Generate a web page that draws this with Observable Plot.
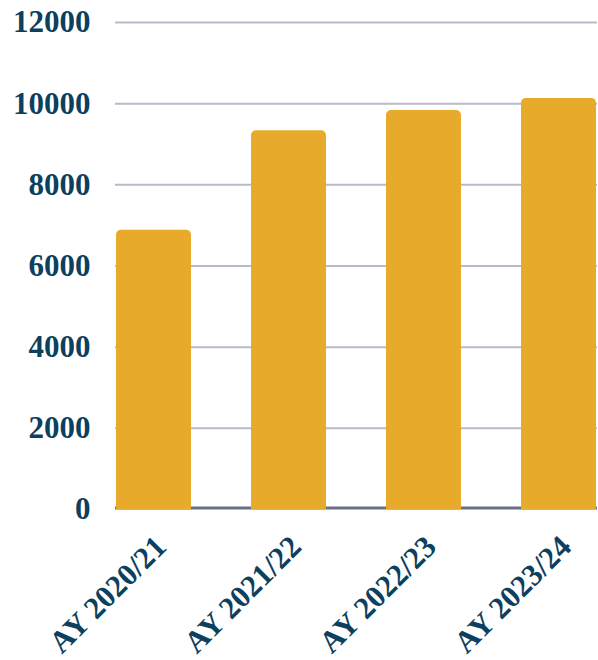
<!DOCTYPE html>
<html>
<head>
<meta charset="utf-8">
<script src="https://cdn.jsdelivr.net/npm/d3@7"></script>
<script src="https://cdn.jsdelivr.net/npm/@observablehq/plot@0.6"></script>
<style>
  html, body { margin: 0; padding: 0; background: #ffffff; }
  #chart svg { display: block; }
</style>
</head>
<body>
<div id="chart"></div>
<script>
const years = ["AY 2020/21", "AY 2021/22", "AY 2022/23", "AY 2023/24"];
const values = [6880, 9330, 9830, 10130];
const yTicks = [0, 2000, 4000, 6000, 8000, 10000, 12000];

const data = years.map((year, i) => ({year, value: values[i]}));

const textColor = "#0d3f5e";
const chart = Plot.plot({
  width: 598,
  height: 660,
  marginLeft: 115,
  marginRight: 1,
  marginTop: 22,
  marginBottom: 151,
  style: {
    fontFamily: "'Liberation Serif', 'Times New Roman', serif",
    fontWeight: "bold",
    fontSize: "31px",
    color: textColor,
    background: "#ffffff"
  },
  x: {
    domain: years,
    label: null,
    paddingInner: 0.446,
    paddingOuter: 0
  },
  y: {
    domain: [0, 12000],
    ticks: yTicks,
    tickFormat: d => String(d),
    label: null,
    tickSize: 0,
    tickPadding: 25
  },
  marks: [
    Plot.gridY(yTicks.filter(d => d > 0), {stroke: "#b9b9c9", strokeOpacity: 1, strokeWidth: 2}),
    Plot.ruleY([0], {stroke: "#6b7088", strokeWidth: 3, dy: -1.5}),
    Plot.barY(data, {x: "year", y: "value", fill: "#e8aa2a", ry1: 5}),
    Plot.axisX({tickSize: 0, tickRotate: -45, tickPadding: 24, label: null, dx: 7, dy: 8})
  ]
});
document.getElementById("chart").appendChild(chart);
</script>
</body>
</html>
